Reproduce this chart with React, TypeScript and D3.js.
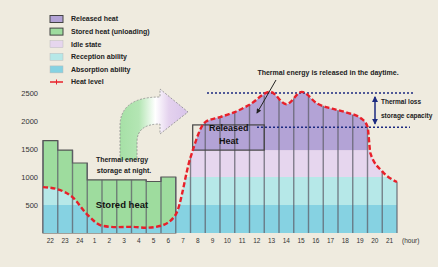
import React from 'react';
import * as d3 from 'd3';

const W = 438;
const H = 267;

// hour labels, one per column
const hours = ['22', '23', '24', '1', '2', '3', '4', '5', '6', '7', '8', '9', '10', '11', '12', '13', '14', '15', '16', '17', '18', '19', '20', '21'];
const yTicks = [500, 1000, 1500, 2000, 2500];

// stored heat bars (green), columns 0..8
const storedHeat = [1650, 1480, 1250, 950, 950, 950, 950, 920, 1000];

// storage level: position in hours from the left edge, and value
const levelHours = [0, 1, 2, 3, 4, 5, 6, 7, 8, 9, 10, 11, 12, 13, 14, 15.4, 16.5, 17.55, 18.6, 19.6, 20.6, 21.6, 22, 22.2, 23, 24];
const levelValues = [820, 780, 640, 330, 130, 105, 110, 95, 130, 330, 1350, 1980, 2070, 2160, 2290, 2520, 2300, 2520, 2310, 2220, 2150, 2040, 1900, 1420, 1100, 910];

const absorptionTop = 500;
const receptionTop = 1000;
const idleTop = 1480;

const legendItems = [
  { label: 'Released heat', color: '#b3a3d6', kind: 'box' },
  { label: 'Stored heat (unloading)', color: '#9edc9e', kind: 'box' },
  { label: 'Idle state', color: '#e6d6ee', kind: 'rect' },
  { label: 'Reception ability', color: '#b6e8e8', kind: 'rect' },
  { label: 'Absorption ability', color: '#86d2e2', kind: 'rect' },
  { label: 'Heat level', color: '#e8202a', kind: 'line' },
];

const font = '"Liberation Sans Narrow", "Liberation Sans", Arial, sans-serif';

const App = () => {
  const x = d3.scaleLinear().domain([0, 24]).range([43, 397]);
  const y = d3.scaleLinear().domain([0, 2500]).range([233, 93]);

  const points: [number, number][] = levelHours.map((h, i) => [h, levelValues[i]]);

  const levelLine = d3
    .line<[number, number]>()
    .x((d) => x(d[0]))
    .y((d) => y(d[1]))
    .curve(d3.curveMonotoneX);

  const levelArea = d3
    .area<[number, number]>()
    .x((d) => x(d[0]))
    .y0(y(0))
    .y1((d) => y(d[1]))
    .curve(d3.curveMonotoneX);

  // level at a given hour, read from the points (nearest known)
  const levelAt = (h: number) => {
    const i = levelHours.indexOf(h);
    if (i >= 0) return levelValues[i];
    const j = d3.bisectLeft(levelHours, h);
    const h0 = levelHours[j - 1];
    const h1 = levelHours[j];
    const t = (h - h0) / (h1 - h0);
    return levelValues[j - 1] * (1 - t) + levelValues[j] * t;
  };

  // step outline of the green bars
  let greenPath = `M${x(0)},${y(0)}`;
  storedHeat.forEach((v, i) => {
    greenPath += `L${x(i)},${y(v)}L${x(i + 1)},${y(v)}`;
  });
  greenPath += `L${x(storedHeat.length)},${y(0)}Z`;

  const boundaries = d3.range(25);
  const gridTop = (i: number) => {
    const adj = [storedHeat[i - 1], storedHeat[i]].filter((v) => v !== undefined) as number[];
    return Math.max(levelAt(i), ...adj);
  };

  return (
    <svg width={W} height={H} style={{ position: 'absolute', left: 0, top: 0 }} fontFamily={font}>
      <defs>
        <clipPath id="under-level">
          <path d={levelArea(points) || ''} />
        </clipPath>
        <linearGradient id="arrow-fill" x1="0" x2="1" y1="0" y2="0">
          <stop offset="0%" stopColor="#a6e0a6" />
          <stop offset="28%" stopColor="#b4e6b4" />
          <stop offset="52%" stopColor="#ffffff" />
          <stop offset="72%" stopColor="#e4d2ee" />
          <stop offset="100%" stopColor="#d8c4ea" />
        </linearGradient>
        <marker id="tip" viewBox="0 0 6 6" refX="5" refY="3" markerWidth="5" markerHeight="5" orient="auto">
          <path d="M0,0L6,3L0,6Z" fill="#222" />
        </marker>
        <marker id="navy-tip" viewBox="0 0 6 6" refX="5" refY="3" markerWidth="4" markerHeight="4" orient="auto-start-reverse">
          <path d="M0,0L6,3L0,6Z" fill="#1c2a80" />
        </marker>
      </defs>

      <rect width={W} height={H} fill="#efebdf" />

      {/* legend */}
      {legendItems.map((d, i) => {
        const cy = 19 + i * 12.6;
        return (
          <g key={d.label}>
            {d.kind === 'line' ? (
              <g>
                <line x1={50} x2={63} y1={cy} y2={cy} stroke={d.color} strokeWidth={1.5} />
                <line x1={56.5} x2={56.5} y1={cy - 2.5} y2={cy + 2.5} stroke={d.color} strokeWidth={1} />
              </g>
            ) : (
              <rect
                x={50}
                y={cy - 3.5}
                width={13}
                height={7}
                fill={d.color}
                stroke={d.kind === 'box' ? '#444' : '#bbb'}
                strokeWidth={d.kind === 'box' ? 1 : 0.5}
              />
            )}
            <text x={71} y={cy} dy="0.35em" fontSize={7} fontWeight="bold" fill="#222">
              {d.label}
            </text>
          </g>
        );
      })}

      {/* y axis labels */}
      {yTicks.map((t) => (
        <text key={t} x={38} y={y(t)} dy="0.35em" textAnchor="end" fontSize={7.5} fill="#333">
          {t}
        </text>
      ))}

      {/* curved arrow from night storage to daytime release */}
      <path
        d="M120,160 L120,126 Q120,97 160,97 L160,89 L188,112 L160,134 L160,124 Q137,124 137,142 L137,160 Z"
        fill="url(#arrow-fill)"
        stroke="#8a8a8a"
        strokeWidth={0.8}
        strokeDasharray="2,1.5"
      />

      {/* stored heat bars */}
      <path d={greenPath} fill="#9edc9e" stroke="#555" strokeWidth={1.2} />

      {/* layers under the heat level */}
      <g clipPath="url(#under-level)">
        <rect x={x(0)} width={x(24) - x(0)} y={y(receptionTop)} height={y(absorptionTop) - y(receptionTop)} fill="#b6e8e8" />
        <rect x={x(0)} width={x(24) - x(0)} y={y(absorptionTop)} height={y(0) - y(absorptionTop)} fill="#86d2e2" />
        <rect x={x(10)} width={x(23) - x(10)} y={y(idleTop)} height={y(receptionTop) - y(idleTop)} fill="#e6d6ee" />
        <rect x={x(10)} width={x(22) - x(10)} y={y(3000)} height={y(idleTop) - y(3000)} fill="#b3a3d6" />
      </g>

      {/* column grid */}
      {boundaries.map((i) => (
        <line
          key={`g-${i}`}
          x1={x(i)}
          x2={x(i)}
          y1={y(0)}
          y2={y(gridTop(i))}
          stroke="#5f5f6a"
          strokeOpacity={0.75}
          strokeWidth={1.4}
        />
      ))}

      {/* released heat box */}
      <rect x={x(10.15)} y={y(1930)} width={x(15) - x(10.15)} height={y(idleTop) - y(1930)} fill="none" stroke="#444" strokeWidth={1.2} />
      <text x={x(12.6)} y={y(1830)} textAnchor="middle" fontSize={9} fontWeight="bold" fill="#111">
        Released
      </text>
      <text x={x(12.6)} y={y(1590)} textAnchor="middle" fontSize={9} fontWeight="bold" fill="#111">
        Heat
      </text>

      {/* dotted reference lines */}
      <line x1={207} x2={413} y1={y(2500)} y2={y(2500)} stroke="#1c2a80" strokeWidth={1.5} strokeDasharray="2,2" />
      <line x1={257} x2={410} y1={y(1890)} y2={y(1890)} stroke="#1c2a80" strokeWidth={1.5} strokeDasharray="2,2" />

      {/* heat level line */}
      <path d={levelLine(points) || ''} fill="none" stroke="#e8202a" strokeWidth={2.4} strokeDasharray="5,2.5" />

      {/* annotations */}
      <text x={122} y={162} textAnchor="middle" fontSize={7} fontWeight="bold" fill="#222">
        Thermal energy
      </text>
      <text x={124} y={173} textAnchor="middle" fontSize={7} fontWeight="bold" fill="#222">
        storage at night.
      </text>
      <text x={122} y={205} dy="0.35em" textAnchor="middle" fontSize={9.5} fontWeight="bold" fill="#111">
        Stored heat
      </text>
      <text x={328} y={75} textAnchor="middle" fontSize={7} fontWeight="bold" fill="#222">
        Thermal energy is released in the daytime.
      </text>
      <line x1={276} y1={80} x2={257} y2={113} stroke="#222" strokeWidth={1} markerEnd="url(#tip)" />
      <line
        x1={375}
        x2={375}
        y1={y(2430)}
        y2={y(1950)}
        stroke="#1c2a80"
        strokeWidth={1.5}
        markerStart="url(#navy-tip)"
        markerEnd="url(#navy-tip)"
      />
      <text x={381} y={104} fontSize={6.5} fontWeight="bold" fill="#222">
        Thermal loss
      </text>
      <text x={381} y={118} fontSize={6.5} fontWeight="bold" fill="#222">
        storage capacity
      </text>

      {/* x axis labels */}
      {hours.map((h, i) => (
        <text key={`h-${i}`} x={x(i + 0.5)} y={241} dy="0.35em" textAnchor="middle" fontSize={6.5} fill="#333">
          {h}
        </text>
      ))}
      <text x={402} y={241} dy="0.35em" fontSize={6.5} fill="#333">
        (hour)
      </text>
    </svg>
  );
};

export default App;
